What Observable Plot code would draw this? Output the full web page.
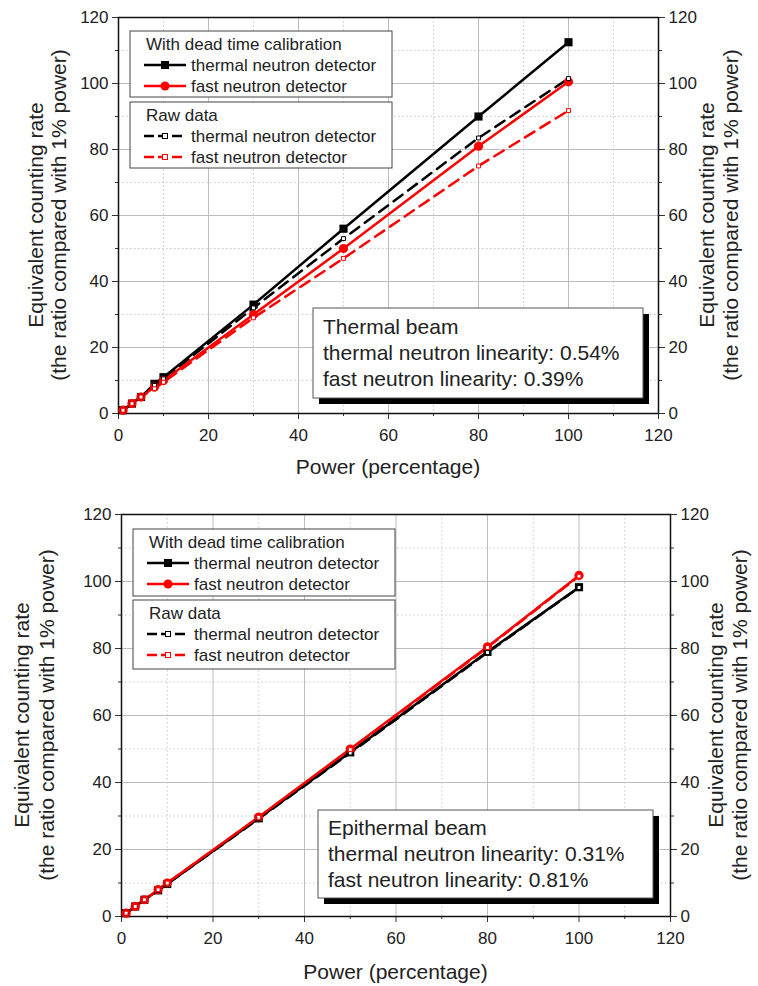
<!DOCTYPE html>
<html><head><meta charset="utf-8">
<script src="https://cdn.jsdelivr.net/npm/d3@7"></script>
<script src="https://cdn.jsdelivr.net/npm/@observablehq/plot@0.6"></script>
<style>body{margin:0;background:#fff}#c{width:758px}svg{display:block}</style>
</head><body><div id="c"></div><script>
// ---------- data ----------
const power = [1, 3, 5, 8, 10, 30, 50, 80, 100];
const topThermalCal = [1, 3, 5, 9, 11, 33, 56, 90, 112.5];
const topFastCal    = [1, 3, 5, 8, 10, 30, 50, 81, 100.5];
const topThermalRaw = [1, 3, 5, 8.5, 10.5, 32, 53, 83.5, 101.5];
const topFastRaw    = [1, 3, 5, 7.5, 9.5, 29, 47, 75, 91.8];
const botThermalCal = [1, 3, 5, 7.8, 9.7, 29.3, 49, 79, 98.3];
const botFastCal    = [1, 3, 5, 8, 10, 29.7, 50, 80.5, 101.8];
const botThermalRaw = [1, 3, 5, 7.8, 9.7, 29.2, 48.8, 78.8, 98.2];
const botFastRaw    = [1, 3, 5, 8, 10, 29.6, 49.8, 80.3, 101.6];
const majorTicks = [0, 20, 40, 60, 80, 100, 120];
const minorTicks = [10, 30, 50, 70, 90, 110];
const yTitle = ["Equivalent counting rate", "(the ratio compared with 1% power)"];
const xTitle = "Power (percentage)";
const legendTitles = ["With dead time calibration", "Raw data"];
const detectorNames = ["thermal neutron detector", "fast neutron detector"];
const topNote = ["Thermal beam", "thermal neutron linearity: 0.54%", "fast neutron linearity: 0.39%"];
const botNote = ["Epithermal beam", "thermal neutron linearity: 0.31%", "fast neutron linearity: 0.81%"];

const FONT = "Liberation Sans, Arial, Helvetica, sans-serif";
const TXT = "#222";
const rows = (vals) => power.map((p, i) => ({power: p, rate: vals[i]}));

function overlay(draw) {
  return (...args) => {
    const dims = args.find(a => a && a.marginLeft !== undefined && a.width !== undefined);
    const g = d3.create("svg:g").attr("font-family", FONT).attr("text-anchor", "start");
    draw(g, dims);
    return g.node();
  };
}

function chart(cfg) {
  const {height, mt, mb, ml, mr, series, note, lg, nt, yt, xtY} = cfg;
  const [tc, fc, tr, fr] = series;
  const dash = "11,7";
  return Plot.plot({
    width: 758, height,
    marginTop: mt, marginBottom: mb, marginLeft: ml, marginRight: mr,
    style: {fontFamily: FONT, fontSize: "17px", color: TXT, background: "#fff"},
    x: {domain: [0, 120]},
    y: {domain: [0, 120]},
    marks: [
      Plot.gridX(minorTicks, {stroke: "#c8c8c8", strokeOpacity: 1, strokeDasharray: "1.5,2.5"}),
      Plot.gridY(minorTicks, {stroke: "#c8c8c8", strokeOpacity: 1, strokeDasharray: "1.5,2.5"}),
      Plot.gridX(majorTicks, {stroke: "#bdbdbd", strokeOpacity: 1}),
      Plot.gridY(majorTicks, {stroke: "#bdbdbd", strokeOpacity: 1}),
      Plot.axisX(majorTicks, {anchor: "bottom", tickSize: 6, tickPadding: 9, fontSize: 17, label: null, stroke: "#333"}),
      Plot.axisX(minorTicks, {anchor: "bottom", tickSize: 3, tickFormat: () => "", label: null, stroke: "#333"}),
      Plot.axisY(majorTicks, {anchor: "left", tickSize: 6, tickPadding: 4, fontSize: 17, label: null, stroke: "#333"}),
      Plot.axisY(minorTicks, {anchor: "left", tickSize: 3, tickFormat: () => "", label: null, stroke: "#333"}),
      Plot.axisY(majorTicks, {anchor: "right", tickSize: 6, tickPadding: 4, fontSize: 17, label: null, stroke: "#333"}),
      Plot.axisY(minorTicks, {anchor: "right", tickSize: 3, tickFormat: () => "", label: null, stroke: "#333"}),
      Plot.frame({stroke: "#111", strokeWidth: 1.5}),
      Plot.line(rows(tr), {x: "power", y: "rate", stroke: "#000", strokeWidth: 2.5, strokeDasharray: dash}),
      Plot.line(rows(fr), {x: "power", y: "rate", stroke: "#ff0000", strokeWidth: 2.5, strokeDasharray: dash}),
      Plot.line(rows(tc), {x: "power", y: "rate", stroke: "#000", strokeWidth: 2.5}),
      Plot.line(rows(fc), {x: "power", y: "rate", stroke: "#ff0000", strokeWidth: 2.5}),
      Plot.dot(rows(tc), {x: "power", y: "rate", symbol: "square", r: 4.6, fill: "#000"}),
      Plot.dot(rows(fc), {x: "power", y: "rate", symbol: "circle", r: 4.6, fill: "#ff0000"}),
      Plot.dot(rows(tr), {x: "power", y: "rate", symbol: "square", r: 2.2, fill: "#fff", stroke: "#000", strokeWidth: 1}),
      Plot.dot(rows(fr), {x: "power", y: "rate", symbol: "square", r: 2.2, fill: "#fff", stroke: "#ff0000", strokeWidth: 1}),
      // legend
      overlay((g, d) => {
        const x0 = lg.x, x1 = x0 + lg.w;
        const boxes = [[lg.y1, lg.y1 + lg.h1], [lg.y2, lg.y2 + lg.h2]];
        boxes.forEach(([a, b]) => g.append("rect").attr("x", x0).attr("y", a).attr("width", x1 - x0).attr("height", b - a)
          .attr("fill", "#fff").attr("stroke", "#444").attr("stroke-width", 1));
        const items = [
          {box: 0, row: 1, color: "#000", dash: null, marker: "sq"},
          {box: 0, row: 2, color: "#ff0000", dash: null, marker: "ci"},
          {box: 1, row: 1, color: "#000", dash: "10,4", marker: "open"},
          {box: 1, row: 2, color: "#ff0000", dash: "10,4", marker: "open"}
        ];
        [0, 1].forEach(b => g.append("text").attr("x", x0 + 16).attr("y", boxes[b][0] + 13).attr("dy", "0.35em")
          .attr("font-size", 17).attr("fill", TXT).text(legendTitles[b]));
        items.forEach((it, k) => {
          const cy = boxes[it.box][0] + 13 + it.row * 21;
          const lx0 = x0 + 14, lx1 = x0 + 56, mx = (lx0 + lx1) / 2;
          g.append("line").attr("x1", lx0).attr("x2", lx1).attr("y1", cy).attr("y2", cy)
            .attr("stroke", it.color).attr("stroke-width", 2.5).attr("stroke-dasharray", it.dash);
          if (it.marker === "sq") g.append("rect").attr("x", mx - 4).attr("y", cy - 4).attr("width", 8).attr("height", 8).attr("fill", it.color);
          else if (it.marker === "ci") g.append("circle").attr("cx", mx).attr("cy", cy).attr("r", 4.5).attr("fill", it.color);
          else g.append("rect").attr("x", mx - 2.5).attr("y", cy - 2.5).attr("width", 5).attr("height", 5).attr("fill", "#fff").attr("stroke", it.color).attr("stroke-width", 1);
          g.append("text").attr("x", lx1 + 5).attr("y", cy).attr("dy", "0.35em").attr("font-size", 17).attr("fill", TXT)
            .text(detectorNames[k % 2]);
        });
      }),
      // annotation box
      overlay((g, d) => {
        g.append("rect").attr("x", nt.x + 6).attr("y", nt.y + 6).attr("width", nt.w).attr("height", nt.h).attr("fill", "#000");
        g.append("rect").attr("x", nt.x).attr("y", nt.y).attr("width", nt.w).attr("height", nt.h).attr("fill", "#fff").attr("stroke", "#555").attr("stroke-width", 1);
        note.forEach((t, i) => g.append("text").attr("x", nt.x + 10).attr("y", nt.y + nt.t0 + i * 26).attr("dy", "0.35em")
          .attr("font-size", 21).attr("fill", TXT).text(t));
      }),
      // axis titles
      overlay((g, d) => {
        const cy = d.marginTop + (d.height - d.marginTop - d.marginBottom) / 2;
        const xl = d.marginLeft, xr = d.width - d.marginRight;
        yTitle.forEach((t, i) => {
          g.append("text").attr("transform", `translate(${xl + yt.l[i]},${cy}) rotate(-90)`).attr("text-anchor", "middle")
            .attr("dy", "0.35em").attr("font-size", 21).attr("fill", TXT).text(t);
          g.append("text").attr("transform", `translate(${xr + yt.r[i]},${cy}) rotate(-90)`).attr("text-anchor", "middle")
            .attr("dy", "0.35em").attr("font-size", 21).attr("fill", TXT).text(t);
        });
        g.append("text").attr("x", (xl + xr) / 2).attr("y", xtY).attr("text-anchor", "middle").attr("dy", "0.35em")
          .attr("font-size", 21).attr("fill", TXT).text(xTitle);
      })
    ]
  });
}

const chartTop = chart({
  height: 490, mt: 17, mb: 77, ml: 118, mr: 100,
  series: [topThermalCal, topFastCal, topThermalRaw, topFastRaw],
  note: topNote,
  lg: {x: 130, w: 262, y1: 31, h1: 66, y2: 102, h2: 66},
  nt: {x: 313, y: 308, w: 330, h: 90, t0: 19},
  yt: {l: [-82, -59], r: [49, 73]},
  xtY: 467
});
const chartBot = chart({
  height: 496, mt: 24, mb: 70, ml: 121, mr: 88,
  series: [botThermalCal, botFastCal, botThermalRaw, botFastRaw],
  note: botNote,
  lg: {x: 133, w: 262, y1: 39, h1: 67, y2: 110, h2: 69},
  nt: {x: 318, y: 320, w: 335, h: 88, t0: 18},
  yt: {l: [-99, -74], r: [46, 70]},
  xtY: 482
});
document.getElementById("c").append(chartTop, chartBot);
</script></body></html>
